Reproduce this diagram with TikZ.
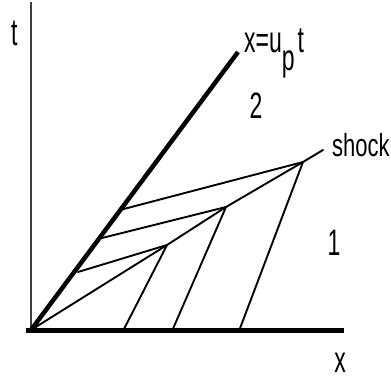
\documentclass[tikz,border=0pt]{standalone}
\usepackage{fontspec}
\setmainfont{Liberation Sans}
\begin{document}
\begin{tikzpicture}[x=1pt,y=-1pt,
  thin line/.style={line width=1.9pt, line cap=round, line join=round},
  thick line/.style={line width=4.5pt},
  lbl/.style={inner sep=0pt, font=\fontsize{23}{27}\selectfont}]
\useasboundingbox (0,0) rectangle (391,379);
\coordinate (O) at (31,330);
\coordinate (Ttop) at (31,2);
\coordinate (Xl) at (26,331);
\coordinate (Xr) at (344,331);
\coordinate (P) at (238,52);
\coordinate (S1) at (167,245);
\coordinate (S2) at (226,207);
\coordinate (S3) at (303,162);
\coordinate (S4) at (323,150);
\coordinate (A1) at (123,331);
\coordinate (A2) at (172,331);
\coordinate (A3) at (239,331);
\coordinate (R1) at (78,272);
\coordinate (R2) at (102,238);
\coordinate (R3) at (120,210);
% axes
\draw[line width=2pt, black!75] (Ttop) -- (31,331);
\draw[line width=5pt] (Xl) -- (Xr);
% piston path
\draw[thick line] (O) -- (P);
% shock
\draw[thin line] (O) -- (S1) -- (S2) -- (S3) -- (S4);
% characteristics
\draw[thin line] (A1) -- (S1);
\draw[thin line] (A2) -- (S2);
\draw[thin line] (A3) -- (S3);
\draw[thin line] (S1) -- (R1);
\draw[thin line] (S2) -- (R2);
\draw[thin line] (S3) -- (R3);
% labels
\node[lbl, anchor=base] (lt) at (15,46) {\scalebox{1}[1.65]{t}};
\node[lbl, anchor=base west] (lup) at (244,53) {\scalebox{1}[1.6]{x=u\raisebox{-11pt}{p}\hspace{3pt}t}};
\node[lbl, anchor=base] (l2) at (256,119) {\scalebox{1}[1.6]{2}};
\node[lbl, anchor=base west, font=\fontsize{22}{26}\selectfont] (lshock) at (332,157) {\scalebox{1}[1.45]{shock}};
\node[lbl, anchor=base] (l1) at (334,256) {\scalebox{1}[1.6]{1}};
\node[lbl, anchor=base] (lx) at (340,372) {\scalebox{1}[1.6]{x}};
\end{tikzpicture}
\end{document}
